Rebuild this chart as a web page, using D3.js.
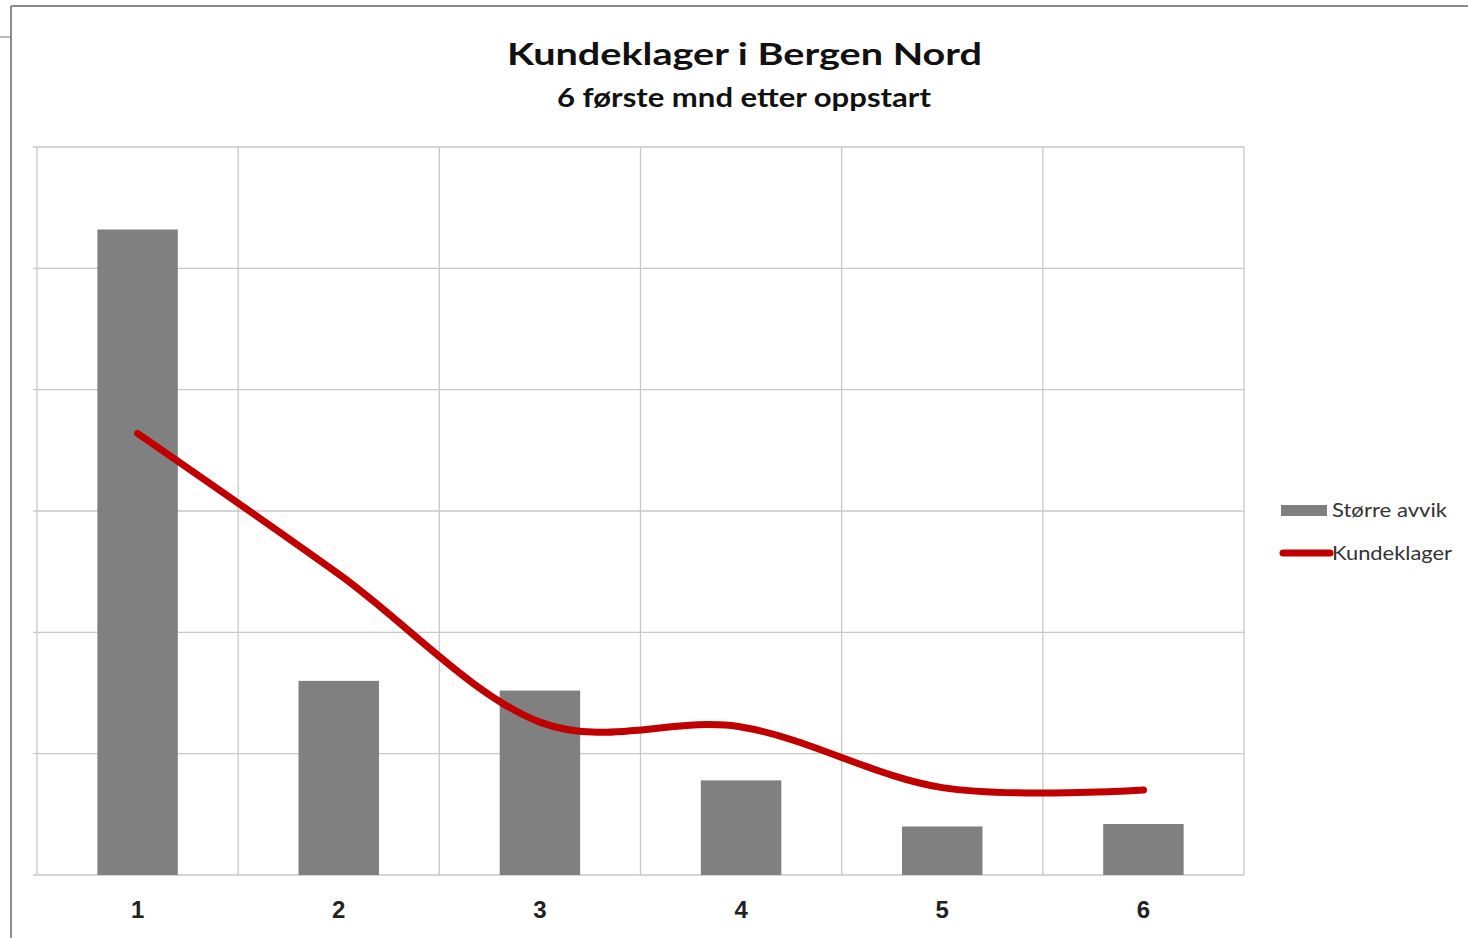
<!DOCTYPE html>
<html>
<head>
<meta charset="utf-8">
<script src="https://cdn.jsdelivr.net/npm/d3@7"></script>
<style>
  body { margin: 0; background: #fff; }
  svg { display: block; font-family: Lato, "Open Sans", sans-serif; }
  .grid line { stroke: #c8c8c8; stroke-width: 1.3; }
  .x.axis path, .x.axis line { display: none; }
  .x.axis text { font-size: 24px; font-weight: bold; fill: #222; }
</style>
</head>
<body>
<div class="chart"></div>
<script>
  var MONTHS = [1, 2, 3, 4, 5, 6];
  var STORRE_AVVIK = [26.6, 8.0, 7.6, 3.9, 2.0, 2.1];
  var KUNDEKLAGER = [18.2, 12.4, 6.3, 6.1, 3.6, 3.5];
  var Y_TICKS = [0, 5, 10, 15, 20, 25, 30];

  var W = 1468, H = 938;
  var margin = {top: 147, right: 224, bottom: 63, left: 37},
  width = W - margin.left - margin.right,
  height = H - margin.top - margin.bottom;

  var root = d3.select(".chart").append("svg")
  .attr("width", W)
  .attr("height", H);

  // outer chart frame
  root.append("line").attr("x1", 11).attr("y1", 6).attr("x2", W).attr("y2", 6)
  .style("stroke", "#8c8c8c").style("stroke-width", 2);
  root.append("line").attr("x1", 11).attr("y1", 6).attr("x2", 11).attr("y2", H)
  .style("stroke", "#8c8c8c").style("stroke-width", 2);
  root.append("line").attr("x1", 0).attr("y1", 37).attr("x2", 10).attr("y2", 37)
  .style("stroke", "#a0a0a0").style("stroke-width", 1.5);

  // titles (reference text is wide, so stretch to its measured width)
  root.append("text")
  .attr("x", 507).attr("y", 65)
  .attr("textLength", 475).attr("lengthAdjust", "spacingAndGlyphs")
  .style("font-size", "31px").style("font-weight", "bold").style("fill", "#111")
  .text("Kundeklager i Bergen Nord");
  root.append("text")
  .attr("x", 557).attr("y", 107)
  .attr("textLength", 374).attr("lengthAdjust", "spacingAndGlyphs")
  .style("font-size", "26px").style("font-weight", "bold").style("fill", "#111")
  .text("6 første mnd etter oppstart");

  var svg = root.append("g")
  .attr("transform", "translate(" + margin.left + "," + margin.top + ")");

  var x = d3.scaleBand().domain(MONTHS).range([0, width]).paddingInner(0).paddingOuter(0);
  var y = d3.scaleLinear().domain([0, 30]).range([height, 0]);

  // horizontal grid
  svg.append("g")
  .attr("class", "grid")
  .selectAll("line")
  .data(Y_TICKS)
  .enter().append("line")
  .attr("x1", -4).attr("x2", width)
  .attr("y1", function (d) { return y(d); })
  .attr("y2", function (d) { return y(d); });

  // vertical grid (category borders)
  var borders = MONTHS.map(function (m) { return x(m); }).concat([width]);
  svg.append("g")
  .attr("class", "grid")
  .selectAll("line")
  .data(borders)
  .enter().append("line")
  .attr("x1", function (d) { return d; }).attr("x2", function (d) { return d; })
  .attr("y1", 0).attr("y2", height);

  // bars (gap width 150%)
  var barW = x.bandwidth() / 2.5;
  svg.selectAll(".bar")
  .data(STORRE_AVVIK)
  .enter().append("rect")
  .attr("class", "bar")
  .attr("x", function (d, i) { return x(MONTHS[i]) + (x.bandwidth() - barW) / 2; })
  .attr("y", function (d) { return y(d); })
  .attr("width", barW)
  .attr("height", function (d) { return height - y(d); })
  .style("fill", "#808080");

  // smoothed line
  var line = d3.line()
  .x(function (d, i) { return x(MONTHS[i]) + x.bandwidth() / 2; })
  .y(function (d) { return y(d); })
  .curve(d3.curveCatmullRom.alpha(0));

  svg.append("path")
  .datum(KUNDEKLAGER)
  .attr("d", line)
  .style("fill", "none")
  .style("stroke", "#c00000")
  .style("stroke-width", 7)
  .style("stroke-linecap", "round")
  .style("stroke-linejoin", "round");

  // X axis labels
  svg.append("g")
  .attr("class", "x axis")
  .attr("transform", "translate(0," + height + ")")
  .call(d3.axisBottom(x).tickSize(0).tickPadding(26));

  // legend
  var legend = root.append("g").attr("transform", "translate(1281,510)");
  legend.append("rect")
  .attr("x", 0).attr("y", -5).attr("width", 46).attr("height", 11)
  .style("fill", "#808080");
  legend.append("text")
  .attr("x", 51).attr("y", 7)
  .attr("textLength", 115).attr("lengthAdjust", "spacingAndGlyphs")
  .style("font-size", "20px").style("fill", "#333")
  .text("Større avvik");
  legend.append("line")
  .attr("x1", 2).attr("x2", 49).attr("y1", 43).attr("y2", 43)
  .style("stroke", "#c00000").style("stroke-width", 7).style("stroke-linecap", "round");
  legend.append("text")
  .attr("x", 51).attr("y", 50)
  .attr("textLength", 120).attr("lengthAdjust", "spacingAndGlyphs")
  .style("font-size", "20px").style("fill", "#333")
  .text("Kundeklager");
</script>
</body>
</html>
